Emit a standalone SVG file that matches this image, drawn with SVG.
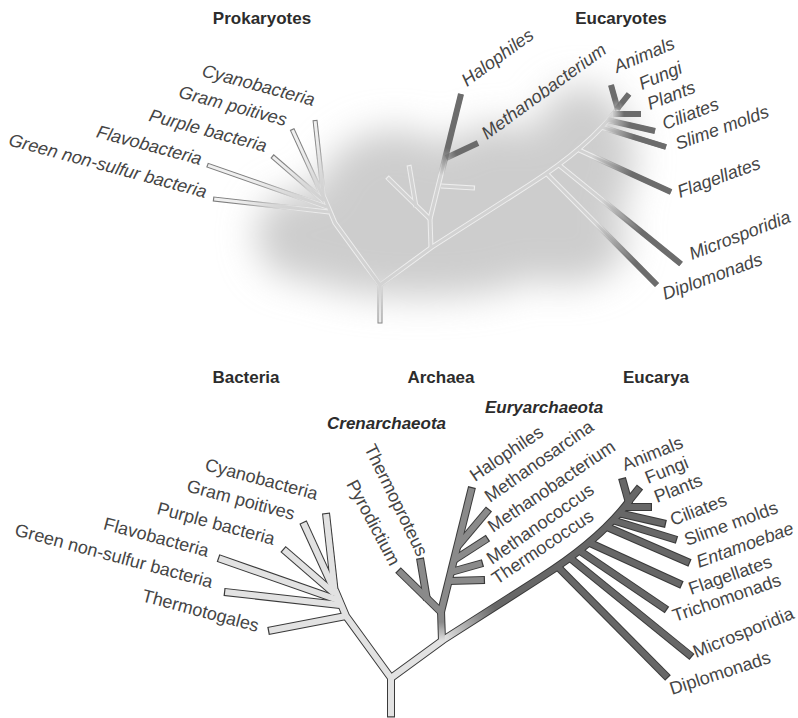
<svg xmlns="http://www.w3.org/2000/svg" width="798" height="718" viewBox="0 0 798 718">
<style>
.t{font-family:"Liberation Sans",Arial,sans-serif;font-size:18px;fill:#454545}
.it{font-style:italic}
.h{font-weight:bold;fill:#2c2c2c;font-size:17px}
.hi{font-weight:bold;font-style:italic;fill:#2c2c2c;font-size:17px}
.e{text-anchor:end}
.m{text-anchor:middle}
.bo{fill:none;stroke:#3a3a3a;stroke-width:8}
.bf{fill:none;stroke-width:6}
.bac{stroke:#e2e2e2}
.arc{stroke:#8a8a8a}
.euc{stroke:#676767}
</style>
<defs>
<filter id="blur" x="-50%" y="-50%" width="200%" height="200%"><feGaussianBlur stdDeviation="18"/></filter>
<g id="cloudShape">
<ellipse cx="303" cy="235" rx="47" ry="45"/>
<ellipse cx="395" cy="205" rx="80" ry="75"/>
<ellipse cx="500" cy="200" rx="80" ry="75"/>
<ellipse cx="582" cy="160" rx="52" ry="74"/>
<ellipse cx="565" cy="242" rx="62" ry="42"/>
<ellipse cx="420" cy="272" rx="115" ry="25"/>
</g>
<mask id="cloudMask" maskUnits="userSpaceOnUse" x="0" y="0" width="798" height="718">
<g fill="#fff" filter="url(#blur)"><use href="#cloudShape"/></g>
</mask>
<g id="topO" fill="none">
<path d="M380,323.5 L380,285"/>
<path d="M380,285 L335,223 L324,197"/>
<path d="M329,212 L213,199"/>
<path d="M327,207 L207,165"/>
<path d="M324,201 L272,156"/>
<path d="M324,199 L292,129"/>
<path d="M324,201 L315,120"/>
<path d="M380,285 L432,247 L529,185 Q589,147 619,107"/>
<path d="M431,248 L430,218"/>
<path d="M430,219 L387,177"/>
<path d="M416,207 L409,165"/>
<path d="M430,219 L461,94"/>
<path d="M446,158 L478,143"/>
<path d="M441,186 L475,188"/>
<path d="M618,110 L611,85"/>
<path d="M617,109 L629,94"/>
<path d="M613,114 L641,114"/>
<path d="M607,120 L655,131"/>
<path d="M601,127 L666,147"/>
<path d="M579,150 L671,192"/>
<path d="M559,165 L681,264"/>
<path d="M546,173 L657,285"/>
</g>
<g id="topF" fill="none">
<path d="M380,322.5 L380,285"/>
<path d="M380,285 L335,223 L324,197"/>
<path d="M329,212 L214.2,199.1"/>
<path d="M327,207 L208.1,165.4"/>
<path d="M324,201 L272.9,156.8"/>
<path d="M324,199 L292.5,130.1"/>
<path d="M324,201 L315.1,121.2"/>
<path d="M380,285 L432,247 L529,185 Q589,147 619,107"/>
<path d="M431,248 L430,218"/>
<path d="M430,219 L387.8,177.9"/>
<path d="M416,207 L409.2,166.2"/>
<path d="M430,219 L460.7,95.2"/>
<path d="M446,158 L476.9,143.5"/>
<path d="M441,186 L473.8,187.9"/>
<path d="M618,110 L611.3,86.2"/>
<path d="M617,109 L628.3,94.9"/>
<path d="M613,114 L639.8,114"/>
<path d="M607,120 L653.8,130.7"/>
<path d="M601,127 L664.9,146.6"/>
<path d="M579,150 L669.9,191.5"/>
<path d="M559,165 L680.1,263.2"/>
<path d="M546,173 L656.2,284.1"/>
</g>
<linearGradient id="gMain" gradientUnits="userSpaceOnUse" x1="445" y1="640" x2="495" y2="608"><stop offset="0" stop-color="#e2e2e2"/><stop offset="1" stop-color="#676767"/></linearGradient>
<linearGradient id="gArc" gradientUnits="userSpaceOnUse" x1="441" y1="641" x2="441" y2="622"><stop offset="0" stop-color="#e2e2e2"/><stop offset="1" stop-color="#8a8a8a"/></linearGradient>
<linearGradient id="dHalo" gradientUnits="userSpaceOnUse" x1="441" y1="175" x2="447" y2="148"><stop offset="0" stop-color="#6c6c6c" stop-opacity="0"/><stop offset="1" stop-color="#6c6c6c"/></linearGradient>
<linearGradient id="dMeth" gradientUnits="userSpaceOnUse" x1="444" y1="159" x2="456" y2="153"><stop offset="0" stop-color="#6c6c6c" stop-opacity="0.4"/><stop offset="1" stop-color="#6c6c6c"/></linearGradient>
<linearGradient id="dAni" gradientUnits="userSpaceOnUse" x1="618" y1="111" x2="615" y2="99"><stop offset="0" stop-color="#6c6c6c" stop-opacity="0.3"/><stop offset="1" stop-color="#6c6c6c"/></linearGradient>
<linearGradient id="dFun" gradientUnits="userSpaceOnUse" x1="616" y1="110" x2="622" y2="103"><stop offset="0" stop-color="#6c6c6c" stop-opacity="0.3"/><stop offset="1" stop-color="#6c6c6c"/></linearGradient>
<linearGradient id="dPla" gradientUnits="userSpaceOnUse" x1="612" y1="114" x2="624" y2="114"><stop offset="0" stop-color="#6c6c6c" stop-opacity="0"/><stop offset="1" stop-color="#6c6c6c"/></linearGradient>
<linearGradient id="dCil" gradientUnits="userSpaceOnUse" x1="607" y1="120" x2="630" y2="125"><stop offset="0" stop-color="#6c6c6c" stop-opacity="0"/><stop offset="1" stop-color="#6c6c6c"/></linearGradient>
<linearGradient id="dSli" gradientUnits="userSpaceOnUse" x1="604" y1="128" x2="634" y2="137"><stop offset="0" stop-color="#6c6c6c" stop-opacity="0"/><stop offset="1" stop-color="#6c6c6c"/></linearGradient>
<linearGradient id="dFla" gradientUnits="userSpaceOnUse" x1="592" y1="156" x2="632" y2="174"><stop offset="0" stop-color="#6c6c6c" stop-opacity="0"/><stop offset="1" stop-color="#6c6c6c"/></linearGradient>
<linearGradient id="dMic" gradientUnits="userSpaceOnUse" x1="602" y1="200" x2="642" y2="232"><stop offset="0" stop-color="#6c6c6c" stop-opacity="0"/><stop offset="1" stop-color="#6c6c6c"/></linearGradient>
<linearGradient id="dDip" gradientUnits="userSpaceOnUse" x1="596" y1="223" x2="636" y2="263"><stop offset="0" stop-color="#6c6c6c" stop-opacity="0"/><stop offset="1" stop-color="#6c6c6c"/></linearGradient>
</defs>

<g id="top-tree">
<use href="#topO" fill="none" stroke="#7d7d7d" stroke-width="5"/>
<use href="#topF" fill="none" stroke="#f0f0f0" stroke-width="3"/>
<g id="cloud" fill="#cdcdcd" filter="url(#blur)"><use href="#cloudShape"/></g>
<g mask="url(#cloudMask)">
<use href="#topO" fill="none" stroke="#eeeeee" stroke-width="5"/>
<use href="#topF" fill="none" stroke="#d2d2d2" stroke-width="3"/>
</g>
<g id="top-tips" fill="none" stroke-width="6">
<path d="M441,175 L461,94" stroke="url(#dHalo)"/>
<path d="M446,158 L478,143" stroke="url(#dMeth)"/>
<path d="M618,110 L611,85" stroke="url(#dAni)"/>
<path d="M617,109 L629,94" stroke="url(#dFun)"/>
<path d="M613,114 L641,114" stroke="url(#dPla)"/>
<path d="M607,120 L655,131" stroke="url(#dCil)"/>
<path d="M601,127 L666,147" stroke="url(#dSli)"/>
<path d="M579,150 L671,192" stroke="url(#dFla)"/>
<path d="M559,165 L681,264" stroke="url(#dMic)"/>
<path d="M546,173 L657,285" stroke="url(#dDip)"/>
</g>
</g>

<g id="connectors">
<g class="bo">
<path d="M391,717.5 L391,678"/>
<path d="M391,678 L346,616 L335,590"/>
<path d="M346,616 L268,631"/>
<path d="M340,605 L224,592"/>
<path d="M338,600 L218,558"/>
<path d="M335,594 L283,549"/>
<path d="M335,592 L303,522"/>
<path d="M335,594 L326,513"/>
<path d="M391,678 L443,640 L540,578 Q600,540 630,500"/>
<path d="M442,641 L441,611"/>
<path d="M441,612 L398,570"/>
<path d="M427,600 L420,558"/>
<path d="M441,612 L472,487"/>
<path d="M457,547 L489,509"/>
<path d="M454,560 L488,538"/>
<path d="M451,572 L483,563"/>
<path d="M449,581 L485,580"/>
<path d="M629,503 L622,478"/>
<path d="M628,502 L640,487"/>
<path d="M624,507 L652,507"/>
<path d="M618,513 L666,524"/>
<path d="M612,520 L677,540"/>
<path d="M607,527 L690,563"/>
<path d="M590,543 L682,585"/>
<path d="M580,551 L667,610"/>
<path d="M570,558 L692,657"/>
<path d="M557,566 L668,678"/>
</g>
<g class="bf bac">
<path d="M391,716.3 L391,678"/>
<path d="M391,678 L346,616 L335,590"/>
<path d="M346,616 L269.2,630.8"/>
<path d="M340,605 L225.2,592.1"/>
<path d="M338,600 L219.1,558.4"/>
<path d="M335,594 L283.9,549.8"/>
<path d="M335,592 L303.5,523.1"/>
<path d="M335,594 L326.1,514.2"/>
</g>
<path class="bf" stroke="url(#gMain)" d="M391,678 L443,640 L540,578 Q600,540 630,500"/>
<path class="bf" stroke="url(#gArc)" d="M442,641 L441,611"/>
<g class="bf arc">
<path d="M441,612 L398.8,570.9"/>
<path d="M427,600 L420.2,559.2"/>
<path d="M441,612 L471.7,488.2"/>
<path d="M457,547 L488.2,509.9"/>
<path d="M454,560 L487,538.7"/>
<path d="M451,572 L481.8,563.3"/>
<path d="M449,581 L483.8,580"/>
</g>
<g class="bf euc">
<path d="M629,503 L622.3,479.2"/>
<path d="M628,502 L639.3,487.9"/>
<path d="M624,507 L650.8,507"/>
<path d="M618,513 L664.8,523.7"/>
<path d="M612,520 L675.9,539.6"/>
<path d="M607,527 L688.9,562.5"/>
<path d="M590,543 L680.9,584.5"/>
<path d="M580,551 L666,609.3"/>
<path d="M570,558 L691.1,656.2"/>
<path d="M557,566 L667.2,677.1"/>
</g>
</g>

<g id="titles">
<text id="t-prokaryotes" class="t h m" x="262" y="24">Prokaryotes</text>
<text id="t-eucaryotes" class="t h m" x="621" y="24">Eucaryotes</text>
<text id="t-bacteria" class="t h m" x="246" y="383">Bacteria</text>
<text id="t-archaea" class="t h m" x="441" y="383">Archaea</text>
<text id="t-eucarya" class="t h m" x="656" y="383">Eucarya</text>
<text id="t-cren" class="t hi" x="327" y="429">Crenarchaeota</text>
<text id="t-eury" class="t hi" x="485" y="413">Euryarchaeota</text>
</g>

<g id="top-labels" class="t it">
<text id="tl-cyano" class="e" transform="translate(313,106) rotate(15)">Cyanobacteria</text>
<text id="tl-gram" class="e" transform="translate(285,126) rotate(15)">Gram poitives</text>
<text id="tl-purple" class="e" transform="translate(265,152) rotate(15)">Purple bacteria</text>
<text id="tl-flavo" class="e" transform="translate(200,165) rotate(15)">Flavobacteria</text>
<text id="tl-green" class="e" transform="translate(205,198) rotate(15)">Green non-sulfur bacteria</text>
<text id="tl-halo" transform="translate(467,87) rotate(-36)">Halophiles</text>
<text id="tl-methb" transform="translate(487,140) rotate(-36)">Methanobacterium</text>
<text id="tl-animals" transform="translate(617,73) rotate(-23)">Animals</text>
<text id="tl-fungi" transform="translate(642,90) rotate(-23)">Fungi</text>
<text id="tl-plants" transform="translate(650,110) rotate(-21)">Plants</text>
<text id="tl-ciliates" transform="translate(665,130) rotate(-21)">Ciliates</text>
<text id="tl-slime" transform="translate(678,150) rotate(-20)">Slime molds</text>
<text id="tl-flag" transform="translate(680,198) rotate(-20)">Flagellates</text>
<text id="tl-micro" transform="translate(692,260) rotate(-21)">Microsporidia</text>
<text id="tl-diplo" transform="translate(665,300) rotate(-20)">Diplomonads</text>
</g>

<g id="bottom-labels" class="t">
<text id="bl-cyano" class="e" transform="translate(316,500) rotate(15)">Cyanobacteria</text>
<text id="bl-gram" class="e" transform="translate(293,520) rotate(15)">Gram poitives</text>
<text id="bl-purple" class="e" transform="translate(273,545) rotate(15)">Purple bacteria</text>
<text id="bl-flavo" class="e" transform="translate(207,557) rotate(15)">Flavobacteria</text>
<text id="bl-green" class="e" transform="translate(211,588) rotate(15)">Green non-sulfur bacteria</text>
<text id="bl-thermotogales" class="e" transform="translate(257,632) rotate(15)">Thermotogales</text>
<text id="bl-thermoproteus" transform="translate(364,448) rotate(64)">Thermoproteus</text>
<text id="bl-pyrodictium" transform="translate(346,484) rotate(62)">Pyrodictium</text>
<text id="bl-halo" transform="translate(475,482) rotate(-34)">Halophiles</text>
<text id="bl-meths" transform="translate(490,503) rotate(-35)">Methanosarcina</text>
<text id="bl-methb" transform="translate(493,533) rotate(-34)">Methanobacterium</text>
<text id="bl-methc" transform="translate(492,565) rotate(-35)">Methanococcus</text>
<text id="bl-thermoc" transform="translate(497,585) rotate(-34)">Thermococcus</text>
<text id="bl-animals" transform="translate(625,471) rotate(-22)">Animals</text>
<text id="bl-fungi" transform="translate(648,484) rotate(-22)">Fungi</text>
<text id="bl-plants" transform="translate(657,503) rotate(-21)">Plants</text>
<text id="bl-ciliates" transform="translate(673,526) rotate(-21)">Ciliates</text>
<text id="bl-slime" transform="translate(687,546) rotate(-20)">Slime molds</text>
<text id="bl-entamoebae" class="it" transform="translate(699,568) rotate(-20)">Entamoebae</text>
<text id="bl-flag" transform="translate(691,595) rotate(-19)">Flagellates</text>
<text id="bl-tricho" transform="translate(675,622) rotate(-19)">Trichomonads</text>
<text id="bl-micro" transform="translate(696,658) rotate(-22)">Microsporidia</text>
<text id="bl-diplo" transform="translate(672,695) rotate(-18)">Diplomonads</text>
</g>
</svg>
